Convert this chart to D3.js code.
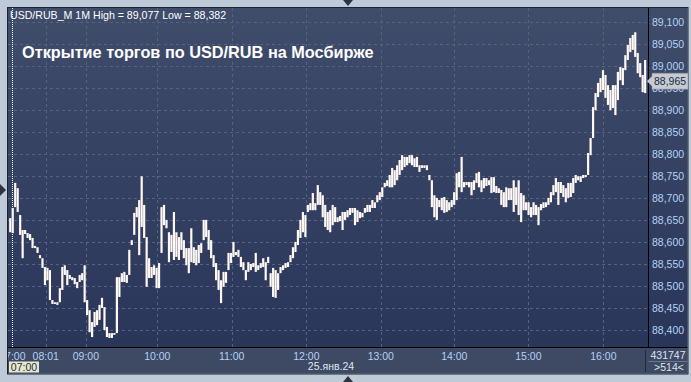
<!DOCTYPE html>
<meta charset="utf-8">
<head>
  <script src="https://d3js.org/d3.v7.min.js"></script>
  <style>
    body { margin: 0; background: #bfcad9; }
    svg { display: block; font-family: "Liberation Sans", Arial, sans-serif; }
  </style>
</head>
<body>
  <div id="chart"></div>
  <script>
    // 2-minute high/low bars, USD/RUB_M, 25 Jan 2024
    var highs = [
      88.654, 88.677, 88.734, 88.722, 88.661, 88.627, 88.627, 88.620, 88.618, 88.609,
      88.591, 88.588, 88.570, 88.563, 88.543, 88.541, 88.536, 88.468, 88.463, 88.463,
      88.495, 88.543, 88.547, 88.536, 88.525, 88.520, 88.518, 88.509, 88.525, 88.529,
      88.547, 88.468, 88.445, 88.418, 88.441, 88.445, 88.457, 88.473, 88.452, 88.407,
      88.393, 88.393, 88.393, 88.520, 88.520, 88.529, 88.532, 88.525, 88.582, 88.604,
      88.666, 88.679, 88.695, 88.749, 88.684, 88.611, 88.563, 88.543, 88.547, 88.541,
      88.552, 88.679, 88.684, 88.650, 88.622, 88.616, 88.668, 88.622, 88.611, 88.622,
      88.604, 88.586, 88.586, 88.631, 88.588, 88.582, 88.593, 88.597, 88.650, 88.650,
      88.627, 88.604, 88.570, 88.552, 88.536, 88.513, 88.532, 88.532, 88.575, 88.575,
      88.600, 88.577, 88.582, 88.566, 88.554, 88.536, 88.554, 88.550, 88.552, 88.575,
      88.547, 88.552, 88.563, 88.554, 88.566, 88.529, 88.541, 88.536, 88.529, 88.543,
      88.547, 88.552, 88.554, 88.570, 88.588, 88.600, 88.627, 88.650, 88.668, 88.661,
      88.684, 88.688, 88.711, 88.688, 88.729, 88.713, 88.706, 88.684, 88.668, 88.672,
      88.684, 88.679, 88.656, 88.659, 88.668, 88.668, 88.672, 88.677, 88.677, 88.677,
      88.672, 88.668, 88.666, 88.677, 88.684, 88.684, 88.695, 88.690, 88.706, 88.713,
      88.724, 88.734, 88.740, 88.752, 88.768, 88.763, 88.774, 88.786, 88.797, 88.793,
      88.793, 88.797, 88.797, 88.790, 88.793, 88.774, 88.774, 88.774, 88.774, 88.752,
      88.740, 88.706, 88.700, 88.695, 88.700, 88.702, 88.695, 88.690, 88.695, 88.713,
      88.756, 88.759, 88.793, 88.736, 88.736, 88.736, 88.736, 88.740, 88.756, 88.759,
      88.740, 88.745, 88.745, 88.740, 88.747, 88.747, 88.727, 88.722, 88.718, 88.713,
      88.724, 88.722, 88.722, 88.740, 88.724, 88.740, 88.711, 88.706, 88.690, 88.690,
      88.679, 88.690, 88.684, 88.679, 88.686, 88.690, 88.690, 88.700, 88.713, 88.729,
      88.745, 88.736, 88.736, 88.729, 88.722, 88.734, 88.734, 88.745, 88.752, 88.749,
      88.749, 88.752, 88.752, 88.802, 88.836, 88.906, 88.938, 88.961, 88.972, 88.990,
      88.979, 88.956, 88.945, 88.956, 88.956, 88.986, 88.997, 88.995, 89.024, 89.047,
      89.063, 89.070, 89.076, 89.029, 89.006, 88.979, 89.013
    ];
    var lows = [
      88.622, 88.620, 88.679, 88.668, 88.616, 88.563, 88.618, 88.609, 88.604, 88.586,
      88.586, 88.575, 88.563, 88.541, 88.502, 88.513, 88.468, 88.459, 88.459, 88.457,
      88.463, 88.491, 88.525, 88.502, 88.516, 88.513, 88.504, 88.495, 88.509, 88.513,
      88.463, 88.434, 88.395, 88.384, 88.407, 88.411, 88.423, 88.450, 88.400, 88.384,
      88.382, 88.382, 88.389, 88.393, 88.475, 88.509, 88.509, 88.507, 88.525, 88.593,
      88.616, 88.656, 88.570, 88.634, 88.609, 88.498, 88.518, 88.518, 88.525, 88.495,
      88.495, 88.575, 88.638, 88.631, 88.554, 88.577, 88.559, 88.566, 88.559, 88.582,
      88.563, 88.547, 88.529, 88.554, 88.552, 88.547, 88.552, 88.575, 88.604, 88.611,
      88.582, 88.563, 88.543, 88.513, 88.491, 88.461, 88.498, 88.507, 88.536, 88.552,
      88.566, 88.570, 88.566, 88.543, 88.536, 88.513, 88.532, 88.536, 88.543, 88.532,
      88.536, 88.541, 88.543, 88.513, 88.552, 88.498, 88.475, 88.473, 88.491, 88.529,
      88.536, 88.541, 88.543, 88.554, 88.563, 88.577, 88.593, 88.609, 88.622, 88.611,
      88.668, 88.672, 88.672, 88.672, 88.684, 88.684, 88.656, 88.634, 88.627, 88.622,
      88.638, 88.645, 88.645, 88.647, 88.627, 88.650, 88.656, 88.661, 88.666, 88.638,
      88.645, 88.654, 88.656, 88.666, 88.668, 88.668, 88.677, 88.677, 88.690, 88.695,
      88.702, 88.724, 88.727, 88.724, 88.724, 88.729, 88.740, 88.752, 88.763, 88.770,
      88.774, 88.779, 88.774, 88.770, 88.770, 88.759, 88.768, 88.768, 88.763, 88.740,
      88.679, 88.656, 88.650, 88.679, 88.672, 88.666, 88.668, 88.672, 88.679, 88.684,
      88.695, 88.724, 88.713, 88.724, 88.729, 88.724, 88.706, 88.718, 88.734, 88.724,
      88.713, 88.722, 88.727, 88.729, 88.711, 88.713, 88.711, 88.711, 88.684, 88.679,
      88.679, 88.695, 88.695, 88.668, 88.684, 88.661, 88.645, 88.672, 88.672, 88.661,
      88.656, 88.661, 88.661, 88.638, 88.672, 88.677, 88.679, 88.684, 88.690, 88.706,
      88.713, 88.684, 88.711, 88.702, 88.690, 88.700, 88.702, 88.711, 88.734, 88.740,
      88.736, 88.745, 88.747, 88.752, 88.797, 88.836, 88.899, 88.929, 88.940, 88.945,
      88.927, 88.911, 88.899, 88.904, 88.888, 88.922, 88.967, 88.956, 88.990, 89.013,
      89.031, 89.036, 89.020, 88.983, 88.974, 88.940, 88.938
    ];
    var priceTicks = [88.40, 88.45, 88.50, 88.55, 88.60, 88.65, 88.70, 88.75,
      88.80, 88.85, 88.90, 88.95, 89.00, 89.05, 89.10];
    var timeLabels = ["07:00", "08:01", "09:00", "10:00", "11:00", "12:00", "13:00", "14:00", "15:00", "16:00"];
    // position of each label, counted in 1-minute bars since the session start
    var timeAt = [2.7, 29.6, 62, 119.6, 179.6, 239.8, 299.8, 359.1, 418.8, 479.3];
    var lastPrice = 88.965;
    var title = "Открытие торгов по USD/RUB на Мосбирже";
    var header = "USD/RUB_M 1M High = 89,077 Low = 88,382";
    var dateLabel = "25.янв.24";
    var barCount = 514, volume = "431747";

    var W = 691, H = 382;
    var pL = 8, pT = 8, pR = 648.5, pB = 347.5, fR = 687.5, fB = 373.5;

    var svg = d3.select("#chart").append("svg")
      .attr("width", W).attr("height", H);

    var grad = svg.append("defs").append("linearGradient").attr("id", "panelGrad")
      .attr("x1", 0).attr("y1", 0).attr("x2", 0).attr("y2", 1);
    grad.append("stop").attr("offset", "0%").attr("stop-color", "#3f4c6a");
    grad.append("stop").attr("offset", "100%").attr("stop-color", "#29365a");

    var x = d3.scaleLinear().domain([0, barCount]).range([9, 646.4]);
    var y = d3.scaleLinear().domain([88.4, 89.1]).range([330, 21.7]);
    var fmt = function (v) { return d3.format(".3f")(v).replace(".", ","); };

    // panels
    svg.append("rect").attr("x", pL).attr("y", pT)
      .attr("width", fR - pL).attr("height", pB - pT).attr("fill", "url(#panelGrad)");
    svg.append("rect").attr("x", pL).attr("y", pB)
      .attr("width", fR - pL).attr("height", fB - pB).attr("fill", "#3e4963");

    // grid
    var grid = svg.append("g")
      .attr("stroke", "#56637f").attr("stroke-dasharray", "3,3").attr("stroke-width", 1);
    grid.selectAll(".hg").data(priceTicks).enter().append("line")
      .attr("x1", pL).attr("x2", pR)
      .attr("y1", function (d) { return Math.round(y(d)) + 0.5; })
      .attr("y2", function (d) { return Math.round(y(d)) + 0.5; });
    grid.selectAll(".vg").data(timeAt.slice(1)).enter().append("line")
      .attr("y1", pT).attr("y2", pB)
      .attr("x1", function (d) { return Math.round(x(d)) + 0.5; })
      .attr("x2", function (d) { return Math.round(x(d)) + 0.5; });

    // session start marker
    svg.append("line")
      .attr("x1", Math.round(x(timeAt[0])) + 0.5).attr("x2", Math.round(x(timeAt[0])) + 0.5)
      .attr("y1", pT).attr("y2", pB)
      .attr("stroke", "#ffffff").attr("stroke-dasharray", "1,1");

    // bars
    svg.append("g")
      .selectAll("rect").data(highs).enter().append("rect")
      .attr("x", function (d, i) { return x(2 * i + 1) - 1.1; })
      .attr("width", 2.2)
      .attr("y", function (d) { return y(d); })
      .attr("height", function (d, i) { return Math.max(1.5, y(lows[i]) - y(d)); })
      .attr("fill", "#fff8f4");

    // time axis
    svg.append("g")
      .selectAll("text").data(timeLabels).enter().append("text")
      .attr("x", function (d, i) { return x(timeAt[i]); })
      .attr("y", 359.5).attr("text-anchor", "middle")
      .attr("fill", "#b4d2f6").attr("font-size", "10.5px")
      .text(function (d) { return d; });
    // outer margin hides the part of the first label that falls outside the frame
    svg.append("rect").attr("x", 0).attr("y", pB).attr("width", pL - 0.5)
      .attr("height", H - pB).attr("fill", "#bfcad9");
    svg.append("text").attr("x", 331).attr("y", 370).attr("text-anchor", "middle")
      .attr("fill", "#dfe6f2").attr("font-size", "10.5px").text(dateLabel);
    svg.append("rect").attr("x", 9).attr("y", 361.5).attr("width", 30).attr("height", 11)
      .attr("fill", "#e6e8cc");
    svg.append("text").attr("x", 24).attr("y", 371).attr("text-anchor", "middle")
      .attr("fill", "#1a2a44").attr("font-size", "10.5px").text(timeLabels[0]);

    // frame lines
    svg.append("line").attr("x1", pR).attr("x2", pR)
      .attr("y1", pT).attr("y2", pB).attr("stroke", "#000");
    svg.append("line").attr("x1", pL).attr("x2", fR)
      .attr("y1", pB).attr("y2", pB).attr("stroke", "#000");
    svg.append("rect").attr("x", pL - 0.5).attr("y", pT - 0.5)
      .attr("width", fR - pL + 1).attr("height", fB - pT + 1)
      .attr("fill", "none").attr("stroke", "#1c2230");
    svg.append("line").attr("x1", 645.5).attr("x2", 645.5)
      .attr("y1", 350).attr("y2", 372).attr("stroke", "#222a38");

    // price axis
    svg.append("g").selectAll("text").data(priceTicks).enter().append("text")
      .attr("x", 652).attr("y", function (d) { return y(d) + 4; })
      .attr("fill", "#b4d2f6").attr("font-size", "10.5px")
      .text(fmt);

    // last price tag
    var ly = y(lastPrice);
    svg.append("path")
      .attr("d", "M647," + ly + " L652," + (ly - 5) + " L652," + (ly - 8) + " L688," + (ly - 8) +
        " L688," + (ly + 8) + " L652," + (ly + 8) + " L652," + (ly + 5) + " Z")
      .attr("fill", "#c6cad2").attr("stroke", "#8a909c").attr("stroke-width", 0.5);
    svg.append("text").attr("x", 654).attr("y", ly + 4)
      .attr("fill", "#1a2a44").attr("font-size", "10.5px").text(fmt(lastPrice));

    // volume / bar count box
    svg.append("line").attr("x1", pR).attr("x2", fR)
      .attr("y1", 361.5).attr("y2", 361.5).attr("stroke", "#6c7690");
    svg.append("text").attr("x", 668).attr("y", 358.5).attr("text-anchor", "middle")
      .attr("fill", "#dde4f0").attr("font-size", "10.5px").text(volume);
    svg.append("text").attr("x", 669).attr("y", 371).attr("text-anchor", "middle")
      .attr("fill", "#dde4f0").attr("font-size", "10.5px").text(">" + barCount + "<");

    // headings
    svg.append("text").attr("x", 10).attr("y", 19)
      .attr("fill", "#ffffff").attr("font-size", "10.6px").text(header);
    svg.append("text").attr("x", 22).attr("y", 58)
      .attr("fill", "#ffffff").attr("font-size", "16.3px").attr("font-weight", "bold").text(title);

    // scroll markers
    svg.append("path").attr("d", "M343,0 L353,0 L348,6 Z").attr("fill", "#2c3442");
    svg.append("path").attr("d", "M343,382 L353,382 L348,376 Z").attr("fill", "#2c3442");
    svg.append("path").attr("d", "M0,184 L0,196 L6,190 Z").attr("fill", "#2c3442");
  </script>
</body>
</html>
